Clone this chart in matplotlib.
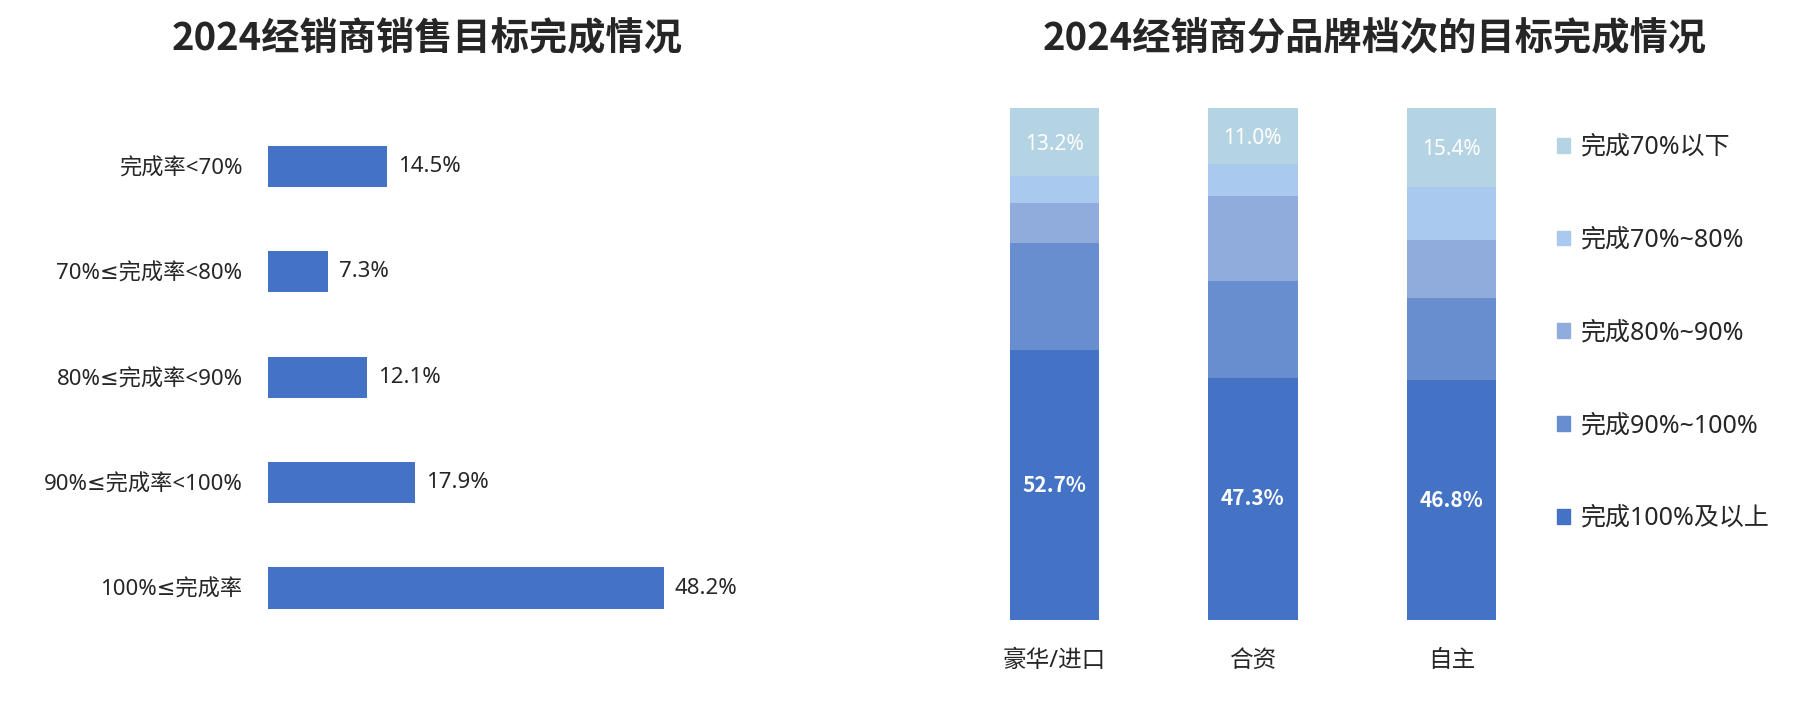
import matplotlib
matplotlib.use("Agg")
import matplotlib.pyplot as plt
from matplotlib.patches import Patch

plt.rcParams['font.family'] = ['Noto Sans', 'DejaVu Sans', 'Noto Sans CJK SC']
bold_family = ['Noto Sans CJK SC', 'DejaVu Sans']

# left chart data
rate_labels = ['完成率<70%', '70%≤完成率<80%', '80%≤完成率<90%', '90%≤完成率<100%', '100%≤完成率']
rate_values = [14.5, 7.3, 12.1, 17.9, 48.2]

# right chart data (stacked, bottom to top)
brands = ['豪华/进口', '合资', '自主']
seg_names = ['完成100%及以上', '完成90%~100%', '完成80%~90%', '完成70%~80%', '完成70%以下']
seg_100 = [52.7, 47.3, 46.8]
seg_90 = [21.0, 18.9, 16.0]
seg_80 = [7.7, 16.7, 11.5]
seg_70 = [5.4, 6.1, 10.3]
seg_low = [13.2, 11.0, 15.4]

seg_colors = ['#4472C4', '#698ED0', '#8FACDC', '#A9CAEE', '#B4D3E3']
txt = '#262626'

W, H = 1801, 705
fig = plt.figure(figsize=(W / 100, H / 100), dpi=100)

# ---- left: horizontal bars
ax1 = fig.add_axes([267.6 / W, (H - 640.7) / H, 8.22 * 50 / W, 527 / H])
ypos = range(len(rate_labels))
ax1.barh(ypos, rate_values, height=0.39, color='#4472C4')
ax1.set_xlim(0, 50)
ax1.set_ylim(4.5, -0.5)
ax1.set_yticks(list(ypos))
ax1.set_yticklabels(rate_labels, fontsize=16, color=txt)
ax1.tick_params(axis='y', length=0, pad=18)
ax1.set_xticks([])
for s in ax1.spines.values():
    s.set_visible(False)
for y, v in zip(ypos, rate_values):
    ax1.annotate(f'{v:.1f}%', (v, y), xytext=(8, 0), textcoords='offset points',
                 va='center', ha='left', fontsize=16, color=txt)
fig.text(427 / W, 1 - 39 / H, '2024经销商销售目标完成情况', ha='center', va='center',
         fontsize=27.5, fontweight='bold', color=txt, family=bold_family)

# ---- right: stacked bars
ax2 = fig.add_axes([955.1 / W, (H - 620) / H, 595.5 / W, 512 / H])
xpos = range(len(brands))
segs = [seg_100, seg_90, seg_80, seg_70, seg_low]
bottom = [0, 0, 0]
for vals, col, name in zip(segs, seg_colors, seg_names):
    ax2.bar(xpos, vals, width=0.45, bottom=bottom, color=col, label=name)
    bottom = [b + v for b, v in zip(bottom, vals)]
ax2.set_xlim(-0.5, 2.5)
ax2.set_ylim(0, sum(s[0] for s in segs))
ax2.set_yticks([])
ax2.set_xticks(list(xpos))
ax2.set_xticklabels(brands, fontsize=17, color=txt)
ax2.tick_params(axis='x', length=0, pad=21)
for s in ax2.spines.values():
    s.set_visible(False)
for i in xpos:
    ax2.text(i, seg_100[i] / 2, f'{seg_100[i]:.1f}%', ha='center', va='center',
             fontsize=15, fontweight='bold', color='white', family=bold_family)
    top_mid = bottom[i] - seg_low[i] / 2
    ax2.text(i, top_mid, f'{seg_low[i]:.1f}%', ha='center', va='center_baseline',
             fontsize=15, color='white')
fig.text(1375 / W, 1 - 39 / H, '2024经销商分品牌档次的目标完成情况', ha='center', va='center',
         fontsize=27.5, fontweight='bold', color=txt, family=bold_family)

handles = [Patch(color=c, label=n) for c, n in zip(seg_colors, seg_names)][::-1]
fig.legend(handles=handles, loc='upper left', bbox_to_anchor=(1557 / W, 1 - 135 / H),
           frameon=False, fontsize=18, labelspacing=2.71, handlelength=0.53,
           handleheight=0.53, handletextpad=0.42, labelcolor=txt, borderaxespad=0,
           borderpad=0)

fig.savefig('out.png', dpi=100, facecolor='white')
